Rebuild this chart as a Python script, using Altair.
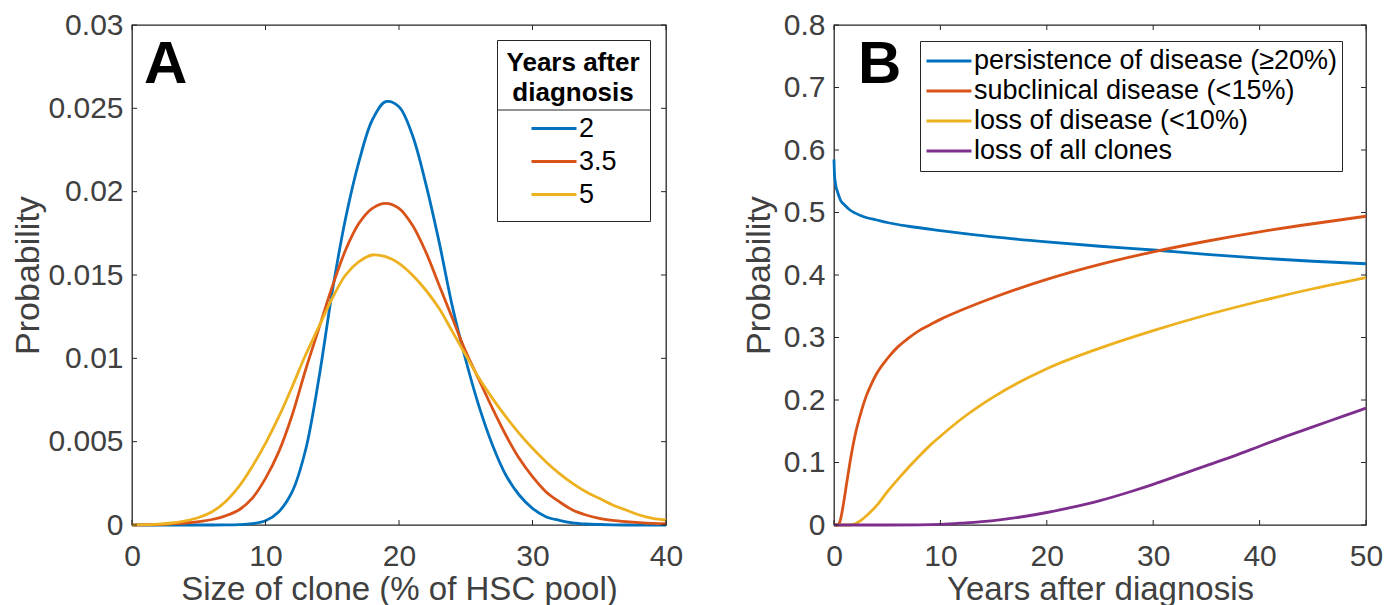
import altair as alt
import pandas as pd

# ---------------- Panel A data ----------------
clone_size = list(range(0, 41))
prob_2y = [0, 0, 0, 0, 0, 0, 0, 0.000005, 0.00002, 0.00008, 0.00025, 0.0008, 0.0020, 0.0045,
           0.0088, 0.0140, 0.0184, 0.0218, 0.0243, 0.0254, 0.0251, 0.0234, 0.0205, 0.0170,
           0.0131, 0.0099, 0.0071, 0.0048, 0.0030, 0.0018, 0.0010, 0.0005, 0.00028, 0.00013,
           0.00006, 0.00003, 0.00001, 0, 0, 0, 0]
prob_35y = [0, 0.00001, 0.00003, 0.00007, 0.00012, 0.0002, 0.00033, 0.00055, 0.0009, 0.0016,
            0.0028, 0.0044, 0.0066, 0.0093, 0.0118, 0.0143, 0.0165, 0.0181, 0.0190, 0.0193,
            0.0190, 0.0180, 0.0164, 0.0144, 0.0124, 0.0104, 0.0087, 0.0070, 0.0054, 0.0040,
            0.0029, 0.0020, 0.0014, 0.0009, 0.0006, 0.0004, 0.00028, 0.0002, 0.00014, 0.0001,
            0.00008]
prob_5y = [0, 0.00002, 0.00005, 0.00012, 0.00025, 0.00045, 0.0008, 0.0014, 0.0023, 0.0035,
           0.0049, 0.0065, 0.0083, 0.0102, 0.0119, 0.0136, 0.0150, 0.0158, 0.0162, 0.0161,
           0.0157, 0.0150, 0.0141, 0.0130, 0.0116, 0.0102, 0.0088, 0.0076, 0.0065, 0.0055,
           0.0046, 0.0038, 0.0031, 0.0025, 0.0020, 0.0016, 0.0012, 0.0009, 0.0006, 0.0004,
           0.0003]
years_A = ["2", "3.5", "5"]
colors_A = ["#0072BD", "#D95319", "#EDB120"]
xticks_A = [0, 10, 20, 30, 40]
yticks_A = [0, 0.005, 0.01, 0.015, 0.02, 0.025, 0.03]

# ---------------- Panel B data ----------------
t_persist = [0, 0.05, 0.15, 0.35, 0.6, 1, 1.5, 2, 3, 4, 5, 7, 10, 15, 20, 25, 30, 35, 40, 45, 50]
p_persist = [0.585, 0.56, 0.545, 0.532, 0.52, 0.512, 0.504, 0.499, 0.492, 0.488, 0.484, 0.478,
             0.471, 0.461, 0.453, 0.446, 0.440, 0.433, 0.427, 0.422, 0.418]
t_subclin = [0, 0.35, 0.6, 0.9, 1.2, 1.5, 2, 2.5, 3, 3.5, 4, 5, 6, 7, 8, 9, 10, 12, 15, 20, 25,
             30, 35, 40, 45, 50]
p_subclin = [0, 0, 0.008, 0.035, 0.068, 0.1, 0.145, 0.178, 0.205, 0.225, 0.242, 0.266, 0.285,
             0.299, 0.311, 0.320, 0.329, 0.344, 0.364, 0.393, 0.417, 0.437, 0.454, 0.469, 0.482,
             0.494]
t_loss = [0, 1.5, 2, 2.5, 3, 3.5, 4, 5, 6, 7, 8, 9, 10, 12, 15, 20, 25, 30, 35, 40, 45, 50]
p_loss = [0, 0, 0.002, 0.007, 0.014, 0.022, 0.031, 0.053, 0.073, 0.092, 0.11, 0.127, 0.142,
          0.17, 0.205, 0.25, 0.283, 0.311, 0.336, 0.358, 0.378, 0.396]
t_allclones = [0, 5, 8, 10, 12, 15, 18, 20, 22, 25, 28, 30, 33, 35, 38, 40, 43, 45, 48, 50]
p_allclones = [0, 0, 0.0002, 0.001, 0.003, 0.007, 0.014, 0.02, 0.027, 0.039, 0.054, 0.065,
               0.083, 0.095, 0.113, 0.126, 0.145, 0.157, 0.175, 0.187]
series_B = ["persistence of disease (≥20%)", "subclinical disease (<15%)",
            "loss of disease (<10%)", "loss of all clones"]
colors_B = ["#0072BD", "#D95319", "#EDB120", "#7E2F8E"]
xticks_B = [0, 10, 20, 30, 40, 50]
yticks_B = [0, 0.1, 0.2, 0.3, 0.4, 0.5, 0.6, 0.7, 0.8]

panel_letters = ["A", "B"]

# ---------------- tables ----------------
df_A = pd.concat([
    pd.DataFrame({"size": clone_size, "prob": vals, "years": lab})
    for vals, lab in zip([prob_2y, prob_35y, prob_5y], years_A)
], ignore_index=True)

df_B = pd.concat([
    pd.DataFrame({"t": tt, "prob": pp, "series": name})
    for tt, pp, name in zip([t_persist, t_subclin, t_loss, t_allclones],
                            [p_persist, p_subclin, p_loss, p_allclones], series_B)
], ignore_index=True)

FONT = "Liberation Sans"
AX = "#262626"
TXT = "#404040"
W_A, W_B, H = 534, 532, 500
TL = 5  # inner tick length
LW = 2.8


def inner_ticks(xfield, xvals, yfield, yvals, w):
    xt = alt.Chart(pd.DataFrame({xfield: xvals})).mark_rule(color=AX, strokeWidth=1)
    yt = alt.Chart(pd.DataFrame({yfield: yvals})).mark_rule(color=AX, strokeWidth=1)
    return [
        xt.encode(x=f"{xfield}:Q", y=alt.value(H), y2=alt.value(H - TL)),
        xt.encode(x=f"{xfield}:Q", y=alt.value(0), y2=alt.value(TL)),
        yt.encode(y=f"{yfield}:Q", x=alt.value(0), x2=alt.value(TL)),
        yt.encode(y=f"{yfield}:Q", x=alt.value(w - TL), x2=alt.value(w)),
    ]


# ---------------- Panel A ----------------
legA = alt.Legend(
    title=["Years after", "diagnosis"], orient="none", legendX=365, legendY=15,
    titleFont=FONT, titleFontSize=26, titleFontWeight="bold", titleColor="#000000",
    titleAnchor="middle", titleAlign="center", titleLineHeight=30, titlePadding=6,
    labelFont=FONT, labelFontSize=27, labelColor="#000000", labelOffset=1, labelLimit=500,
    symbolType="stroke", symbolSize=2025, symbolStrokeWidth=LW, symbolOffset=0,
    clipHeight=33, rowPadding=0, strokeColor=AX, padding=10,
)
lines_A = alt.Chart(df_A).mark_line(strokeWidth=LW, interpolate="catmull-rom").encode(
    x=alt.X("size:Q", scale=alt.Scale(domain=[0, 40], nice=False, zero=False),
            axis=alt.Axis(values=xticks_A, title="Size of clone (% of HSC pool)",
                          labelFlush=False)),
    y=alt.Y("prob:Q", scale=alt.Scale(domain=[0, 0.03], nice=False),
            axis=alt.Axis(values=yticks_A, format="~g", title="Probability",
                          titlePadding=2, labelFlush=False)),
    color=alt.Color("years:N", scale=alt.Scale(domain=years_A, range=colors_A),
                    sort=years_A, legend=legA),
)
sep_A = alt.Chart(pd.DataFrame({"s": [0]})).mark_rule(color=AX, strokeWidth=1).encode(
    x=alt.value(365), x2=alt.value(519), y=alt.value(85))
letter_A = alt.Chart(pd.DataFrame({"panel": [panel_letters[0]]})).mark_text(
    font=FONT, fontSize=60, fontWeight="bold", align="left", baseline="alphabetic",
    color="#000000").encode(text="panel:N", x=alt.value(12), y=alt.value(58))

chart_A = alt.layer(lines_A, *inner_ticks("size", xticks_A, "prob", yticks_A, W_A),
                    sep_A, letter_A).properties(width=W_A, height=H)

# ---------------- Panel B ----------------
legB = alt.Legend(
    title=None, orient="none", legendX=86, legendY=16,
    labelFont=FONT, labelFontSize=27, labelColor="#000000", labelOffset=1, labelLimit=600,
    symbolType="stroke", symbolSize=2025, symbolStrokeWidth=LW, symbolOffset=0,
    clipHeight=30, rowPadding=0, strokeColor=AX, padding=5,
)
lines_B = alt.Chart(df_B).mark_line(strokeWidth=LW, interpolate="monotone").encode(
    x=alt.X("t:Q", scale=alt.Scale(domain=[0, 50], nice=False, zero=False),
            axis=alt.Axis(values=xticks_B, title="Years after diagnosis", labelFlush=False)),
    y=alt.Y("prob:Q", scale=alt.Scale(domain=[0, 0.8], nice=False),
            axis=alt.Axis(values=yticks_B, format="~g", title="Probability",
                          titlePadding=7, labelFlush=False)),
    color=alt.Color("series:N", scale=alt.Scale(domain=series_B, range=colors_B),
                    sort=series_B, legend=legB),
)
letter_B = alt.Chart(pd.DataFrame({"panel": [panel_letters[1]]})).mark_text(
    font=FONT, fontSize=60, fontWeight="bold", align="left", baseline="alphabetic",
    color="#000000").encode(text="panel:N", x=alt.value(24), y=alt.value(58))

chart_B = alt.layer(lines_B, *inner_ticks("t", xticks_B, "prob", yticks_B, W_B),
                    letter_B).properties(width=W_B, height=H)

chart = alt.hconcat(chart_A, chart_B, spacing=168, bounds="flush").resolve_scale(
    color="independent"
).properties(
    padding={"left": 3, "top": 1, "right": 5, "bottom": 0}
).configure(font=FONT).configure_view(
    stroke=AX, strokeWidth=1.3
).configure_axis(
    domain=False, ticks=False, tickSize=0, grid=False,
    labelFont=FONT, labelFontSize=30, labelColor=TXT,
    titleFont=FONT, titleFontSize=33, titleFontWeight="normal", titleColor=TXT,
).configure_axisX(labelPadding=16, titlePadding=2).configure_axisY(
    labelPadding=9, titleFontSize=34)

chart.save("out.html", embed_options={"renderer": "svg", "actions": False})
